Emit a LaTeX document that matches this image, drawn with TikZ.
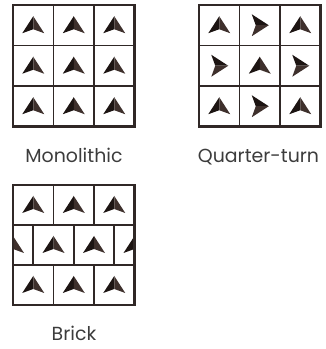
\documentclass[tikz,border=0pt]{standalone}
\usepackage{fontspec}
\setmainfont{Poppins}
\usepackage{tikz}
\definecolor{inkdark}{RGB}{28,20,18}
\definecolor{inklight}{RGB}{62,48,44}
\definecolor{gridline}{RGB}{48,40,38}
\definecolor{labeltext}{RGB}{60,60,60}

\begin{document}
\begin{tikzpicture}[x=1bp,y=1bp,
  gridl/.style={gridline,line width=1.7bp},
  border/.style={gridline,line width=2.1bp},
  lbl/.style={font=\fontsize{19}{22}\selectfont,text=labeltext,inner sep=0pt,anchor=base},
  chev/.pic={
    \fill[inkdark] (0,9) -- (-11,-8) -- (0,-4) -- cycle;
    \fill[inklight] (0,9) -- (11,-8) -- (0,-4) -- cycle;
  }]
\useasboundingbox (0,0) rectangle (326,349);

% monolithic: every tile the same way
\foreach \r in {0,1,2}
  \foreach \c in {0,1,2}
    \pic at ({33.25+40.5*\c},{323.75-40.5*\r}) {chev};
\foreach \i in {1,2} {
  \draw[gridl] ({13+40.5*\i},222.5) -- ({13+40.5*\i},344);
  \draw[gridl] (13,{222.5+40.5*\i}) -- (134.5,{222.5+40.5*\i});
}
\draw[border] (13,222.5) rectangle (134.5,344);
\node[lbl] (mono) at (74,187) {Monolithic};

% quarter-turn: every other tile turned
\foreach \r in {0,1,2}
  \foreach \c in {0,1,2} {
    \pgfmathsetmacro\ang{-90*mod(\r+\c,2)}
    \pic[rotate=\ang] at ({219.25+40.5*\c},{323.75-40.5*\r}) {chev};
  }
\foreach \i in {1,2} {
  \draw[gridl] ({199+40.5*\i},222.5) -- ({199+40.5*\i},344);
  \draw[gridl] (199,{222.5+40.5*\i}) -- (320.5,{222.5+40.5*\i});
}
\draw[border] (199,222.5) rectangle (320.5,344);
\node[lbl] (quarter) at (258.5,187) {Quarter-turn};

% brick: middle row shifted half a tile
\begin{scope}
  \clip (13,44) rectangle (134.5,164);
  \foreach \c in {0,1,2} {
    \pic at ({33.25+40.5*\c},144) {chev};
    \pic at ({33.25+40.5*\c},64) {chev};
  }
  \foreach \c in {0,1,2,3}
    \pic at ({13+40.5*\c},104) {chev};
\end{scope}
\draw[gridl] (13,124) -- (134.5,124);
\draw[gridl] (13,84) -- (134.5,84);
\foreach \i in {1,2} {
  \draw[gridl] ({13+40.5*\i},124) -- ({13+40.5*\i},164);
  \draw[gridl] ({13+40.5*\i},44) -- ({13+40.5*\i},84);
}
\foreach \i in {0,1,2}
  \draw[gridl] ({33.25+40.5*\i},84) -- ({33.25+40.5*\i},124);
\draw[border] (13,44) rectangle (134.5,164);
\node[lbl] (brick) at (74,9) {Brick};
\end{tikzpicture}
\end{document}
